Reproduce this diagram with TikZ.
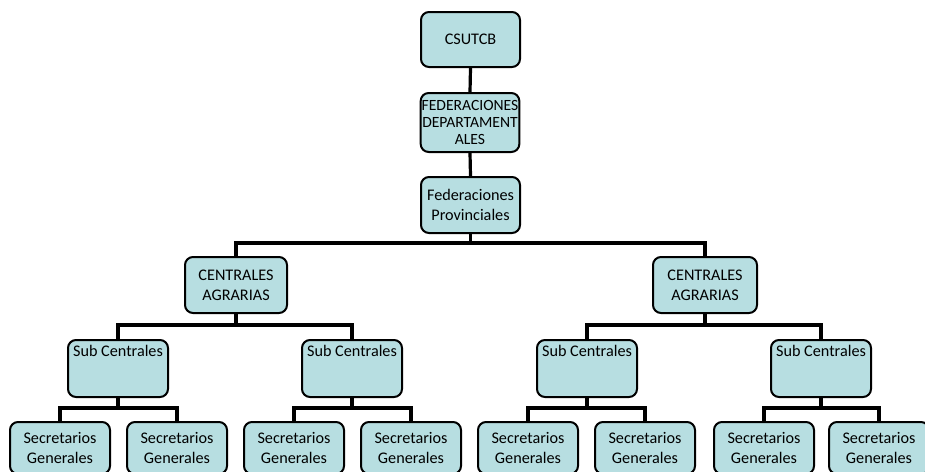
\documentclass[tikz,border=0pt]{standalone}
\usepackage{fontspec}
\setmainfont{Carlito}
\definecolor{boxfill}{RGB}{183,222,225}
\tikzset{
  orgbox/.style={draw=black, line width=2pt, fill=boxfill, rounded corners=8pt,
    align=center, inner sep=1pt, font=\fontsize{16.2}{20}\selectfont},
  link/.style={line width=3.2pt, draw=black, line join=miter}
}
\begin{document}
\begin{tikzpicture}[x=1pt,y=-1pt]
\useasboundingbox (0,0) rectangle (925,471);
\clip (0,0) rectangle (925,471);
% bus coordinates
\coordinate (b1) at (0,243);
\coordinate (b2) at (0,325);
\coordinate (b3) at (0,408);
\node[orgbox, minimum width=99pt, minimum height=55pt] (csutcb) at (470.5,39.5) {CSUTCB};
\node[orgbox, minimum width=98pt, minimum height=59pt, font=\fontsize{15.6}{17}\selectfont] (fed) at (470,122.5) {FEDERACIONES\\DEPARTAMENT\\ALES};
\node[orgbox, minimum width=99pt, minimum height=56pt] (prov) at (470.5,205) {Federaciones\\Provinciales};
\node[orgbox, minimum width=102pt, minimum height=56pt] (cenL) at (236,285) {CENTRALES\\AGRARIAS};
\node[orgbox, minimum width=104pt, minimum height=56pt] (cenR) at (705,285) {CENTRALES\\AGRARIAS};
\foreach \n/\x in {1/118,2/352,3/587,4/821}{
  \node[orgbox, minimum width=100pt, minimum height=57pt] (sub\n) at (\x,368.5) {Sub Centrales\\[16pt]};
}
\foreach \n/\x in {1a/60,1b/177,2a/294,2b/411,3a/528,3b/645,4a/764,4b/879}{
  \node[orgbox, minimum width=100pt, minimum height=52pt] (sec\n) at (\x,448) {Secretarios\\Generales};
}
% connectors
\draw[link] (csutcb.south) -- (fed.north);
\draw[link] (fed.south) -- (prov.north);
\draw[link] (prov.south) -- (prov.south |- b1) -| (cenL.north);
\draw[link] (prov.south |- b1) -| (cenR.north);
\draw[link] (cenL.south) -- (cenL.south |- b2) -| (sub1.north);
\draw[link] (cenL.south |- b2) -| (sub2.north);
\draw[link] (cenR.south) -- (cenR.south |- b2) -| (sub3.north);
\draw[link] (cenR.south |- b2) -| (sub4.north);
\foreach \n in {1,2,3,4}{
  \draw[link] (sub\n.south) -- (sub\n.south |- b3) -| (sec\n a.north);
  \draw[link] (sub\n.south |- b3) -| (sec\n b.north);
}
\end{tikzpicture}
\end{document}
